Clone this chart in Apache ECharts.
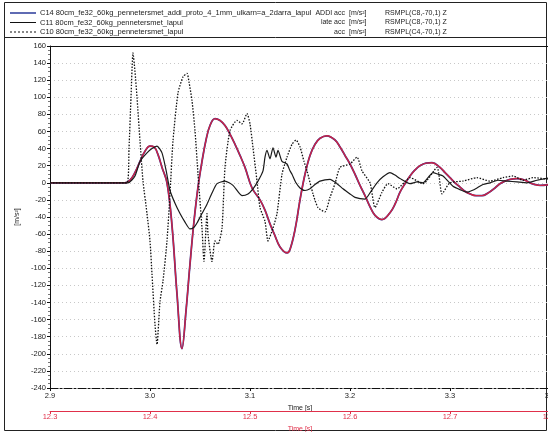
<!DOCTYPE html>
<html>
<head>
<meta charset="utf-8">
<script src="https://cdn.jsdelivr.net/npm/echarts@6/dist/echarts.min.js"></script>
<style>
html,body{margin:0;padding:0;background:#fff;}
#main{width:548px;height:432px;}
</style>
</head>
<body>
<div id="main"></div>
<script>
// time [s] / acceleration [m/s2]
var c14 = [
	[2.90,0],[2.975,0],[2.980,3],[2.985,12],[2.990,25],[2.995,37],[3.000,43],[3.004,42],[3.008,33],[3.012,18],
	[3.017,0],[3.022,-50],[3.027,-130],[3.032,-194],[3.036,-150],[3.040,-95],[3.044,-45],[3.048,-5],[3.052,25],
	[3.056,50],[3.060,67],[3.065,75],[3.070,73],[3.075,67],[3.080,57],[3.085,45],[3.090,32],[3.095,18],[3.102,-6],
	[3.110,-20],[3.115,-32],[3.120,-48],[3.125,-62],[3.130,-75],[3.137,-82],[3.140,-78],[3.145,-55],[3.150,-20],
	[3.155,10],[3.160,32],[3.165,45],[3.170,52],[3.177,55],[3.185,50],[3.190,42],[3.195,32],[3.200,22],[3.205,10],
	[3.210,-3],[3.215,-15],[3.220,-28],[3.225,-38],[3.232,-43],[3.240,-35],[3.245,-25],[3.250,-11],[3.255,-1],
	[3.260,8],[3.265,15],[3.270,20],[3.276,23],[3.282,23.5],[3.290,18],[3.295,12],[3.300,6],[3.305,0],[3.310,-5],
	[3.315,-10],[3.320,-13],[3.326,-15],[3.332,-15],[3.338,-12],[3.345,-6],[3.350,-1],[3.355,2],[3.360,4],
	[3.367,5],[3.375,3],[3.380,0],[3.385,-2],[3.390,-3],[3.400,-2]
];
var c11 = [
	[2.90,0],[2.978,0],[2.985,8],[2.990,25],[2.997,35],[3.002,40],[3.007,43],[3.012,35],[3.016,15],[3.020,-9],
	[3.025,-24],[3.030,-36],[3.035,-46],[3.040,-54],[3.044,-52],[3.047,-47],[3.052,-36],[3.057,-25],[3.062,-12],
	[3.067,-1],[3.075,2],[3.083,-3],[3.092,-15],[3.098,-13],[3.103,-7],[3.108,2],[3.113,14],[3.115,30],[3.117,38],
	[3.120,28],[3.123,41],[3.126,30],[3.128,38],[3.132,25],[3.137,22],[3.140,14],[3.142,10],[3.146,0],[3.150,-6],
	[3.155,-9],[3.160,-7],[3.165,-2],[3.170,2],[3.180,4],[3.187,-1],[3.193,-7],[3.200,-13],[3.205,-17],[3.215,-19],
	[3.221,-10],[3.227,0],[3.233,7],[3.240,12],[3.245,9],[3.250,5],[3.260,-1],[3.267,1],[3.273,0],[3.278,6],
	[3.283,12],[3.288,10],[3.293,8],[3.298,2],[3.303,-4],[3.310,-8],[3.317,-11],[3.322,-9],[3.327,-6],[3.333,-2],
	[3.340,0],[3.348,3],[3.357,2],[3.367,1],[3.377,0],[3.387,3],[3.400,6]
];
var c10 = [
	[2.90,0],[2.977,0],[2.979,40],[2.981,100],[2.983,152],[2.985,130],[2.987,100],[2.990,49],[2.993,2],[2.997,-36],
	[3.000,-68],[3.002,-107],[3.005,-166],[3.007,-189],[3.010,-139],[3.013,-115],[3.017,-68],[3.020,-13],[3.023,49],
	[3.028,105],[3.033,124],[3.037,128],[3.039,118],[3.042,96],[3.045,61],[3.048,10],[3.052,-53],[3.054,-92],
	[3.057,-36],[3.058,-60],[3.062,-92],[3.065,-68],[3.068,-72],[3.072,-53],[3.075,18],[3.080,61],[3.087,73],
	[3.092,69],[3.097,81],[3.100,69],[3.103,41],[3.107,2],[3.110,-29],[3.115,-45],[3.118,-68],[3.123,-53],
	[3.127,-36],[3.132,10],[3.137,30],[3.142,45],[3.146,50],[3.150,42],[3.154,25],[3.157,14],[3.163,-13],
	[3.168,-29],[3.175,-34],[3.180,-17],[3.185,-1],[3.190,18],[3.200,22],[3.207,30],[3.212,14],[3.220,0],
	[3.225,-29],[3.232,-11],[3.238,-1],[3.247,-7],[3.260,6],[3.273,-1],[3.287,18],[3.292,-13],[3.300,0],
	[3.313,2],[3.327,6],[3.340,2],[3.353,6],[3.363,8],[3.373,3],[3.383,6],[3.400,4]
];
var legendRows = [
	['C14 80cm_fe32_60kg_pennetersmet_addi_proto_4_1mm_ulkarn=a_2darra_lapul', 'ADDI acc', '[m/s²]', 'RSMPL(C8,-70,1) Z'],
	['C11 80cm_fe32_60kg_pennetersmet_lapul', 'late acc', '[m/s²]', 'RSMPL(C8,-70,1) Z'],
	['C10 80cm_fe32_60kg_pennetersmet_lapul', 'acc', '[m/s²]', 'RSMPL(C4,-70,1) Z']
];
var legendStyles = [
	{stroke:'#2a3a9a', lineWidth:1.5, lineDash:null},
	{stroke:'#111', lineWidth:1, lineDash:null},
	{stroke:'#111', lineWidth:1, lineDash:[2,2]}
];

var font = 'Liberation Sans, Arial, sans-serif';
var chart = echarts.init(document.getElementById('main'));

var gfx = [
	{type:'rect', shape:{x:4.5, y:2.5, width:542, height:428}, style:{fill:'none', stroke:'#222', lineWidth:1}, z:0},
	{type:'line', shape:{x1:4.5, y1:37.5, x2:546.5, y2:37.5}, style:{stroke:'#222', lineWidth:1}}
];
legendRows.forEach(function(row, i){
	var y = 13 + i * 9.5;
	gfx.push({type:'line', shape:{x1:10, y1:y, x2:36, y2:y}, style:legendStyles[i]});
	var cols = [40, 345, 349, 385];
	var aligns = ['left', 'right', 'left', 'left'];
	row.forEach(function(txt, j){
		gfx.push({type:'text', x:cols[j], y:y, style:{text:txt, font:(j == 0 ? '7.5px ' : '7px ') + font, fill:'#222', align:aligns[j], verticalAlign:'middle'}});
	});
});

var option = {
	backgroundColor:'#fff',
	animation:false,
	grid:{left:50, right:-2, top:46, bottom:44, outerBoundsMode:'none'},
	graphic:gfx,
	xAxis:[{
		type:'value', min:2.9, max:3.4, interval:0.1, position:'bottom',
		name:'Time [s]', nameLocation:'middle', nameGap:13,
		nameTextStyle:{fontSize:7, color:'#222', fontFamily:font},
		axisLine:{onZero:false, lineStyle:{color:'#111', type:[8,2,2,2], width:1}},
		axisTick:{show:true, length:3, lineStyle:{color:'#111'}},
		axisLabel:{fontSize:7.5, color:'#222', margin:4, fontFamily:font, formatter:function(v){return v.toFixed(1);}},
		splitLine:{show:false}
	},{
		type:'value', min:12.3, max:12.8, interval:0.1, position:'bottom', offset:23,
		name:'Time [s]', nameLocation:'middle', nameGap:5,
		nameTextStyle:{fontSize:7, color:'#e0304a', fontFamily:font},
		axisLine:{onZero:false, lineStyle:{color:'#e0304a', width:1}},
		axisTick:{show:true, length:3, lineStyle:{color:'#e0304a'}},
		axisLabel:{fontSize:7.5, color:'#e0304a', margin:2, fontFamily:font, formatter:function(v){return v.toFixed(1);}},
		splitLine:{show:false}
	},{
		type:'value', min:2.9, max:3.4, position:'top',
		axisLine:{onZero:false, lineStyle:{color:'#111', width:1.2}},
		axisTick:{show:false}, axisLabel:{show:false}, splitLine:{show:false}
	}],
	yAxis:{
		type:'value', min:-240, max:160, interval:20,
		name:'[m/s²]', nameLocation:'middle', nameGap:27, nameRotate:90,
		nameTextStyle:{fontSize:7, color:'#222', fontFamily:font},
		axisLine:{show:true, onZero:false, lineStyle:{color:'#111', width:1}},
		axisTick:{show:true, length:3, lineStyle:{color:'#111'}},
		minorTick:{show:true, splitNumber:4, length:2, lineStyle:{color:'#777'}},
		axisLabel:{fontSize:7.5, color:'#222', margin:4, fontFamily:font},
		splitLine:{show:true, lineStyle:{color:'#c8c8c8', type:[1,3], width:1}}
	},
	series:[{
		name:'C14', type:'line', data:c14, showSymbol:false, smooth:0.4, xAxisIndex:0,
		lineStyle:{color:'#2a3a9a', width:1.8}, z:2
	},{
		name:'C14r', type:'line', data:c14, showSymbol:false, smooth:0.4, xAxisIndex:0,
		lineStyle:{color:'#cc2244', width:1.4}, z:3
	},{
		name:'C11', type:'line', data:c11, showSymbol:false, smooth:0.2, xAxisIndex:0,
		lineStyle:{color:'#1a1a1a', width:1.2}, z:4
	},{
		name:'C10', type:'line', data:c10, showSymbol:false, smooth:0.2, xAxisIndex:0,
		lineStyle:{color:'#111', width:1.3, type:[1.5,1.5]}, z:5
	}]
};
chart.setOption(option);
</script>
</body>
</html>
